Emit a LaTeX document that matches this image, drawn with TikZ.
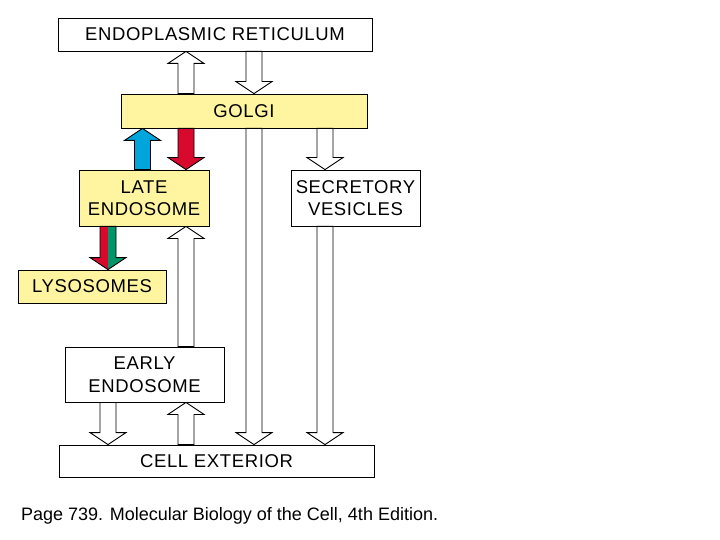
\documentclass[tikz,border=0pt]{standalone}
\usepackage{fontspec}
\setmainfont{Liberation Sans}
\newfontfamily\lblfam[LetterSpace=3.4]{Liberation Sans}
\usetikzlibrary{calc}
\definecolor{cyellow}{RGB}{255,245,160}
\definecolor{cblue}{RGB}{0,165,220}
\definecolor{cred}{RGB}{215,10,45}
\definecolor{cgreen}{RGB}{0,150,105}
\newcommand\lblfont{\lblfam\fontsize{18.5}{22.5}\selectfont}
\newcommand\capfont{\fontsize{18}{20}\selectfont}
% generic block-arrow path: #1 options, #2 centre x, #3 tail anchor, #4 tip anchor
\newcommand\apath[4]{\path[#1] let \p1=(#3), \p2=(#4), \n1={12pt*sign(\y2-\y1)} in
  ({(#2-8)*1pt},\y1) -- ({(#2-8)*1pt},{\y2-\n1}) -- ({(#2-18)*1pt},{\y2-\n1}) --
  ({#2*1pt},\y2) -- ({(#2+18)*1pt},{\y2-\n1}) -- ({(#2+8)*1pt},{\y2-\n1}) --
  ({(#2+8)*1pt},\y1) -- cycle;}
\newcommand\barrow[4][white]{\apath{draw=black,fill=#1,line width=0.9pt}{#2}{#3}{#4}}
\newcommand\bicolarrow[5]{%
  \begin{scope}\clip (0,0) rectangle (#1,540);\apath{fill=#4}{#1}{#2}{#3}\end{scope}
  \begin{scope}\clip (#1,0) rectangle (720,540);\apath{fill=#5}{#1}{#2}{#3}\end{scope}
  \apath{draw=black,line width=0.9pt}{#1}{#2}{#3}}
\begin{document}
\begin{tikzpicture}[x=1pt,y=-1pt,
  box/.style={draw=black, line width=0.9pt, inner sep=0pt, font=\lblfont, align=center},
  ybox/.style={box, fill=cyellow}]
\useasboundingbox[fill=white] (0,0) rectangle (720,540);
\node[box, minimum width=314pt, minimum height=33pt] (er) at (215,34.5) {ENDOPLASMIC RETICULUM};
\node[ybox, minimum width=246pt, minimum height=34pt] (golgi) at (244,111) {GOLGI};
\node[ybox, minimum width=130pt, minimum height=56pt] (late) at (144,198) {LATE\\ENDOSOME};
\node[box, minimum width=129pt, minimum height=56pt] (sec) at (355.5,198) {SECRETORY\\VESICLES};
\node[ybox, minimum width=148pt, minimum height=33pt] (lyso) at (92,286.5) {LYSOSOMES};
\node[box, minimum width=159pt, minimum height=55pt] (early) at (144.5,374.5) {EARLY\\ENDOSOME};
\node[box, minimum width=315pt, minimum height=32pt] (cell) at (216.5,461) {CELL EXTERIOR};
\node[anchor=base west, inner sep=0pt, font=\capfont] (cap) at (21,520) {Page 739. Molecular Biology of the Cell, 4th Edition.};
% arrows
\barrow{186}{golgi.north}{er.south}
\barrow{254}{er.south}{golgi.north}
\barrow[cblue]{142.5}{late.north}{golgi.south}
\barrow[cred]{186}{golgi.south}{late.north}
\barrow{254}{golgi.south}{cell.north}
\barrow{325}{golgi.south}{sec.north}
\barrow{325}{sec.south}{cell.north}
\bicolarrow{108}{late.south}{lyso.north}{cred}{cgreen}
\barrow{186}{early.north}{late.south}
\barrow{108}{early.south}{cell.north}
\barrow{186}{cell.north}{early.south}
\end{tikzpicture}
\end{document}
